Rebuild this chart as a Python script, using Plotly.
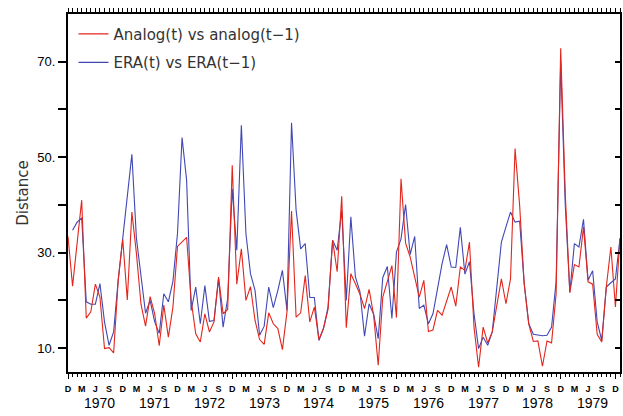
import plotly.graph_objects as go

# month index: 0 = Dec 1969 ... 121 = Jan 1980
analog = [33.4, 23.0, 32.0, 41.0, 16.3, 17.6, 23.4, 20.7, 9.9, 10.1,
          9.0, 24.2, 32.8, 20.1, 38.5, 29.8, 19.2, 14.6, 20.8, 17.2,
          10.5, 19.0, 12.3, 18.6, 31.3, 32.3, 33.2, 20.0, 13.0, 11.3,
          17.2, 13.4, 15.5, 24.9, 17.2, 18.1, 48.3, 23.4, 30.8, 20.0,
          22.9, 15.8, 11.8, 10.8, 17.4, 15.1, 14.1, 9.7, 17.6, 38.7,
          16.5, 17.4, 25.2, 15.5, 18.6, 11.8, 14.1, 18.1, 32.6, 26.0,
          41.8, 14.3, 25.6, 23.5, 21.3, 18.3, 22.3, 16.9, 6.4, 20.7,
          24.2, 27.3, 16.4, 45.5, 32.0, 29.1, 24.9, 20.7, 24.2, 13.5,
          13.8, 17.9, 16.9, 19.7, 22.8, 18.8, 27.0, 26.3, 32.2, 14.4,
          6.0, 14.4, 11.1, 13.4, 19.3, 24.5, 19.3, 24.5, 51.8, 39.9,
          23.5, 15.1, 11.4, 11.5, 6.2, 11.5, 11.1, 21.4, 72.8, 42.4,
          21.6, 27.5, 27.0, 35.4, 23.9, 23.4, 12.9, 11.3, 22.8, 31.2,
          18.6, 33.0]

era = [34.7, 36.4, 37.3, 19.7, 19.2, 19.2, 23.5, 15.5, 10.6,
       13.4, 24.2, 32.6, 41.0, 50.6, 33.0, 25.0, 17.3, 20.0, 15.5,
       13.1, 21.4, 19.7, 24.0, 34.0, 54.1, 45.2, 17.9, 22.8, 15.1,
       23.1, 15.6, 15.8, 24.5, 14.4, 20.4, 43.4, 30.5, 56.7, 34.0,
       25.6, 22.1, 12.7, 14.6, 22.8, 18.5, 22.1, 26.3, 17.9, 57.2,
       38.9, 30.8, 31.9, 20.6, 20.6, 11.6, 14.1, 18.6, 32.6, 30.5,
       38.9, 20.0, 37.5, 24.9, 21.8, 12.5, 19.3, 17.1, 12.0, 24.8,
       27.1, 16.2, 30.1, 32.9, 40.1, 29.6, 33.4, 18.3, 19.0, 15.1,
       17.2, 22.8, 27.7, 31.7, 27.0, 26.9, 35.3, 25.5, 28.1, 17.2,
       9.9, 12.3, 10.6, 13.4, 22.8, 32.2, 35.4, 38.5, 36.4, 36.6,
       23.5, 15.1, 12.9, 12.7, 12.6, 12.7, 14.4, 24.0, 70.0, 40.0,
       21.7, 31.9, 31.2, 37.0, 24.2, 26.2, 15.5, 11.6, 22.8, 23.7,
       24.5, 33.0]

analog_months = list(range(0, len(analog)))
era_months = list(range(1, 1 + len(era)))

season_labels = ["D", "M", "J", "S"]
season_ticks = list(range(0, 121, 3))
season_text = [season_labels[(i // 3) % 4] for i in season_ticks]
years = ["1970", "1971", "1972", "1973", "1974", "1975", "1976", "1977", "1978", "1979"]
year_pos = [7 + 12 * k for k in range(len(years))]

y_ticks = [10, 20, 30, 40, 50, 60, 70]
y_text = ["10.", "", "30.", "", "50.", "", "70."]

RED = "#e3261c"
BLUE = "#4048b5"
FONT = "Liberation Sans, Arial, sans-serif"
WIDE = "DejaVu Sans, sans-serif"

fig = go.Figure()
fig.add_trace(go.Scatter(x=era_months, y=era, mode="lines", name="ERA(t) vs ERA(t\u22121)",
                         line=dict(color=BLUE, width=1.1), legendrank=2, legendgroup="era"))
fig.add_trace(go.Scatter(x=analog_months, y=analog, mode="lines", name="Analog(t) vs analog(t\u22121)",
                         line=dict(color=RED, width=1.1), legendrank=1, legendgroup="analog"))
# empty helper traces so the mirrored axes are drawn
fig.add_trace(go.Scatter(x=[], y=[], xaxis="x2", yaxis="y", showlegend=False))
fig.add_trace(go.Scatter(x=[], y=[], xaxis="x3", yaxis="y", showlegend=False))
fig.add_trace(go.Scatter(x=[], y=[], xaxis="x", yaxis="y2", showlegend=False))

for k, yr in enumerate(years):
    fig.add_annotation(x=year_pos[k], y=-0.087, xref="x", yref="paper", text=yr,
                       showarrow=False, font=dict(family=FONT, size=14, color="black"),
                       xanchor="center", yanchor="middle")

fig.update_layout(
    width=623, height=416,
    margin=dict(l=68, r=3, t=14, b=44),
    paper_bgcolor="white", plot_bgcolor="white",
    showlegend=True,
    legend=dict(x=0.01, y=0.99, xanchor="left", yanchor="top",
                bgcolor="rgba(0,0,0,0)", font=dict(family=WIDE, size=15, color="#333"),
                itemwidth=30, tracegroupgap=6),
    xaxis=dict(range=[0, 121], showgrid=False, zeroline=False,
               showline=True, linecolor="black", linewidth=2,
               tickmode="array", tickvals=season_ticks, ticktext=season_text,
               ticks="outside", ticklen=3, tickwidth=1, tickcolor="black",
               tickfont=dict(family=FONT, size=9, color="black", weight="bold"),
               ticklabelstandoff=4,
               minor=dict(tickmode="linear", tick0=0, dtick=1, ticks="outside",
                          ticklen=3, tickwidth=1, tickcolor="black")),
    xaxis2=dict(matches="x", overlaying="x", side="top", anchor="y",
                showgrid=False, zeroline=False, showline=True, linecolor="black", linewidth=2,
                tickmode="linear", tick0=0, dtick=1, ticks="outside", ticklen=4,
                tickcolor="black", showticklabels=False),
    xaxis3=dict(matches="x", overlaying="x", side="bottom", anchor="y",
                showgrid=False, zeroline=False, showline=False,
                tickmode="array", tickvals=list(range(0, 121, 12)), ticks="outside",
                ticklen=6, tickwidth=1, tickcolor="black", showticklabels=False),
    yaxis=dict(range=[5, 80], showgrid=False, zeroline=False,
               showline=True, linecolor="black", linewidth=2,
               tickmode="array", tickvals=y_ticks, ticktext=y_text,
               ticks="outside", ticklen=8, tickwidth=1.5, tickcolor="black",
               tickfont=dict(family=FONT, size=13, color="black"),
               title=dict(text="Distance", font=dict(family=WIDE, size=15, color="#333"), standoff=5)),
    yaxis2=dict(matches="y", overlaying="y", side="right", anchor="x",
                showgrid=False, zeroline=False, showline=True, linecolor="black", linewidth=2,
                tickmode="array", tickvals=y_ticks, ticks="inside", ticklen=5,
                tickwidth=1.5, tickcolor="black", showticklabels=False),
)

fig.write_html("out.html")
